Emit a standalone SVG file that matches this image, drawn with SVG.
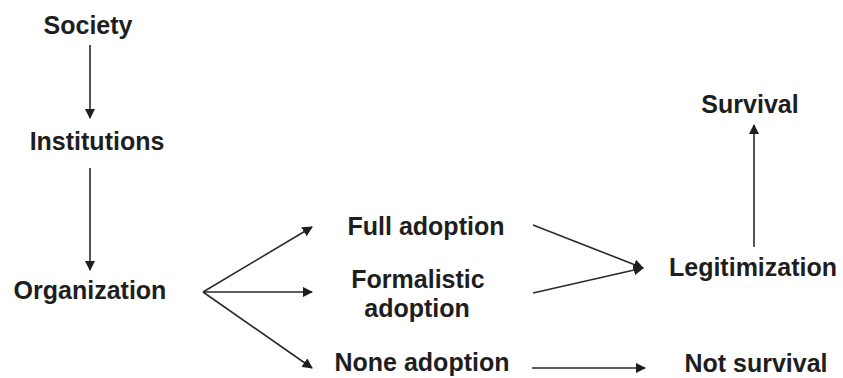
<svg xmlns="http://www.w3.org/2000/svg" width="843" height="378" viewBox="0 0 843 378">
<style>
text{font-family:"Liberation Sans",Arial,sans-serif;font-weight:bold;font-size:25px;fill:#1e1e1e;text-anchor:middle}
.c line{stroke:#2a2a2a;stroke-width:1.6;marker-end:url(#ah)}
</style>
<defs>
<marker id="ah" viewBox="0 0 10 10" refX="9" refY="5" markerWidth="6.5" markerHeight="6.5" markerUnits="strokeWidth" orient="auto">
<path d="M0,0 L10,5 L0,10 z" fill="#1e1e1e"/>
</marker>
</defs>
<rect width="843" height="378" fill="#fff"/>
<g id="society"><text x="88" y="34">Society</text></g>
<g id="institutions"><text x="97" y="150">Institutions</text></g>
<g id="organization"><text x="90" y="299">Organization</text></g>
<g id="full-adoption"><text x="426" y="235">Full adoption</text></g>
<g id="formalistic-adoption"><text x="418" y="288">Formalistic</text><text x="417" y="317">adoption</text></g>
<g id="none-adoption"><text x="422" y="371">None adoption</text></g>
<g id="legitimization"><text x="753" y="276">Legitimization</text></g>
<g id="survival"><text x="750" y="113">Survival</text></g>
<g id="not-survival"><text x="756" y="372">Not survival</text></g>
<g class="c" id="connectors">
<line x1="90" y1="45" x2="90" y2="118"/>
<line x1="90" y1="168" x2="90" y2="270"/>
<line x1="203" y1="292" x2="312" y2="227"/>
<line x1="203" y1="292" x2="312" y2="292"/>
<line x1="203" y1="292" x2="312" y2="368"/>
<line x1="533" y1="225" x2="643" y2="268"/>
<line x1="533" y1="293" x2="643" y2="268"/>
<line x1="532" y1="368" x2="645" y2="368"/>
<line x1="754" y1="247" x2="754" y2="125"/>
</g>
</svg>
